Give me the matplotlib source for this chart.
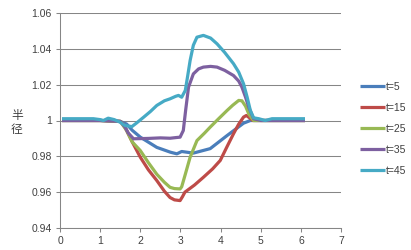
#!/usr/bin/env python3
"""Radius profiles at several times (line chart, Excel style)."""

import matplotlib
matplotlib.use("Agg")
import matplotlib.pyplot as plt

# --- data ---
x_t5 = [0.05, 1.0, 1.5, 1.66, 1.8, 2.0, 2.41, 2.75, 2.91, 3.03, 3.32, 3.74,
        4.16, 4.57, 4.74, 5.0, 6.1]
y_t5 = [1.0, 1.0, 0.9995, 0.998, 0.9945, 0.9907, 0.985, 0.9823, 0.9814, 0.9827,
        0.9818, 0.9843, 0.9916, 0.9985, 1.0, 1.0, 1.0]

x_t15 = [0.05, 1.0, 1.5, 1.58, 1.8, 2.0, 2.2, 2.41, 2.6, 2.74, 2.85, 2.99, 3.05,
         3.11, 3.35, 3.57, 3.8, 3.99, 4.15, 4.32, 4.45, 4.57, 4.64, 4.72, 4.8,
         5.0, 6.1]
y_t15 = [1.0, 1.0, 0.9995, 0.998, 0.988, 0.9795, 0.9725, 0.9665, 0.9605, 0.957,
         0.9557, 0.9553, 0.9575, 0.960, 0.964, 0.9683, 0.973, 0.9777, 0.985,
         0.9926, 0.998, 1.0019, 1.0028, 1.0015, 1.0, 1.0, 1.0]

x_t25 = [0.05, 1.0, 1.5, 1.66, 1.8, 2.0, 2.2, 2.41, 2.6, 2.74, 2.85, 2.99, 3.03,
         3.12, 3.24, 3.41, 3.6, 3.74, 3.95, 4.16, 4.3, 4.45, 4.53, 4.62, 4.7,
         4.82, 5.0, 6.1]
y_t25 = [1.0, 1.0, 0.9995, 0.9944, 0.988, 0.9832, 0.9765, 0.970, 0.9655, 0.9627,
         0.962, 0.9618, 0.963, 0.970, 0.9795, 0.9888, 0.993, 0.9963, 1.001,
         1.0056, 1.0085, 1.0112, 1.011, 1.008, 1.0037, 1.0, 1.0, 1.0]

x_t35 = [0.05, 1.0, 1.5, 1.62, 1.7, 1.83, 2.2, 2.5, 2.74, 2.9, 2.99, 3.07, 3.13,
         3.2, 3.32, 3.45, 3.57, 3.75, 3.91, 4.1, 4.32, 4.45, 4.53, 4.62, 4.7,
         4.82, 5.0, 6.1]
y_t35 = [1.0, 1.0, 0.9995, 0.9963, 0.993, 0.9898, 0.990, 0.9903, 0.9901, 0.9905,
         0.9907, 0.9944, 1.006, 1.0186, 1.026, 1.0288, 1.0298, 1.0302, 1.0298,
         1.028, 1.0251, 1.022, 1.0186, 1.013, 1.0074, 1.001, 1.0, 1.0]

x_t45 = [0.05, 0.83, 1.0, 1.08, 1.2, 1.35, 1.5, 1.62, 1.79, 1.9, 2.08, 2.25,
         2.41, 2.6, 2.74, 2.88, 2.95, 3.03, 3.12, 3.18, 3.24, 3.32, 3.41, 3.57,
         3.75, 3.91, 4.1, 4.32, 4.45, 4.57, 4.66, 4.74, 4.82, 4.95, 5.11, 5.28,
         6.1]
y_t45 = [1.001, 1.001, 1.0005, 1.0, 1.0013, 1.0005, 0.999, 0.9972, 0.9966,
         0.9985, 1.0018, 1.005, 1.0084, 1.011, 1.0121, 1.0135, 1.014, 1.013,
         1.0168, 1.025, 1.0335, 1.042, 1.0465, 1.0475, 1.046, 1.0428, 1.038,
         1.0317, 1.027, 1.0205, 1.013, 1.0056, 1.0015, 1.001, 1.0, 1.001, 1.001]

series_labels = ["t=5", "t=15", "t=25", "t=35", "t=45"]
series_colors = ["#4A7EBB", "#BE4B48", "#98B954", "#7D60A0", "#46AAC5"]

x_ticks = [0, 1, 2, 3, 4, 5, 6, 7]
y_ticks = [0.94, 0.96, 0.98, 1.0, 1.02, 1.04, 1.06]
y_tick_labels = ["0.94", "0.96", "0.98", "1", "1.02", "1.04", "1.06"]
y_label = "半\n径"

plt.rcParams["font.family"] = ["Liberation Sans", "DejaVu Sans"]

fig = plt.figure(figsize=(4.11, 2.5), dpi=100)
ax = fig.add_axes([0.146, 0.088, 0.684, 0.860])

grey = "#868686"
for xs, ys, lab, col in zip([x_t5, x_t15, x_t25, x_t35, x_t45],
                            [y_t5, y_t15, y_t25, y_t35, y_t45],
                            series_labels, series_colors):
    ax.plot(xs, ys, color=col, lw=2.3, label=lab, solid_capstyle="butt")

ax.set_xlim(0, 7)
ax.set_ylim(0.94, 1.06)
ax.set_xticks(x_ticks)
ax.set_yticks(y_ticks)
ax.set_yticklabels(y_tick_labels)

ax.grid(axis="y", color=grey, lw=0.75)
ax.set_axisbelow(True)
for side in ("top", "right"):
    ax.spines[side].set_visible(False)
for side in ("left", "bottom"):
    ax.spines[side].set_color(grey)
    ax.spines[side].set_linewidth(0.75)
ax.tick_params(axis="both", colors=grey, labelcolor="#404040", labelsize=7.5,
               length=3, width=0.75, pad=3)

# stacked (upright glyphs) y-axis label
fig.text(0.041, 0.51, y_label, fontsize=8.5, color="#404040",
         family=["Noto Sans CJK SC", "DejaVu Sans"],
         ha="center", va="center", linespacing=1.05)

fig.legend(loc="center left", bbox_to_anchor=(0.865, 0.484), frameon=False,
           fontsize=7.5, handlelength=2.4, handletextpad=0.1,
           labelspacing=1.05, labelcolor="#404040", borderaxespad=0)

fig.savefig("out.png", dpi=100)
